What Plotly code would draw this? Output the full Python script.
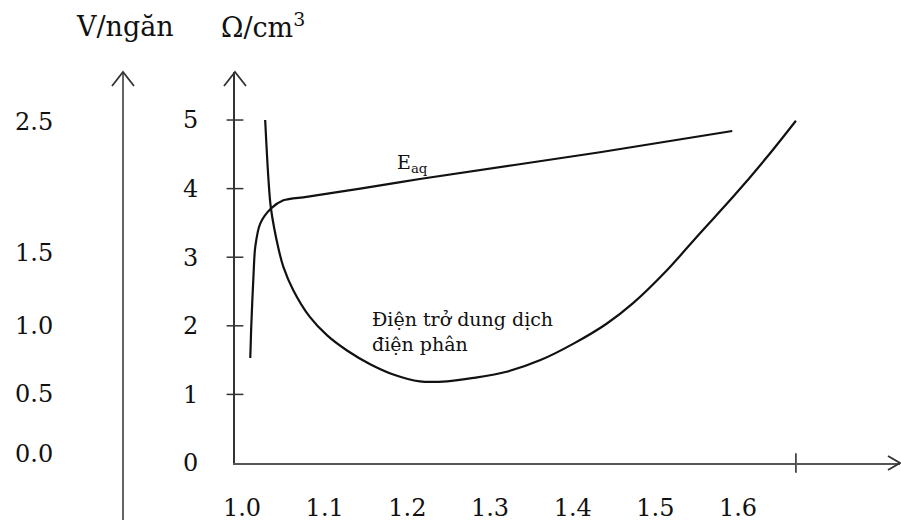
import plotly.graph_objects as go

W, H = 901, 523

# ---------------- data ----------------
x_ticks = [1.0, 1.1, 1.2, 1.3, 1.4, 1.5, 1.6]
x_tick_text = ["1.0", "1.1", "1.2", "1.3", "1.4", "1.5", "1.6"]
x_extra_tick = [1.67]

ohm_ticks = [0, 1, 2, 3, 4, 5]
ohm_tick_text = ["0", "1", "2", "3", "4", "5"]

# V/ngăn labels and where they sit on the Ω scale (hand-drawn, not linear)
v_tick_text = ["0.0", "0.5", "1.0", "1.5", "2.5"]
v_tick_on_ohm = [0.14, 1.01, 2.0, 3.07, 4.97]

# E_aq curve
e_x = [1.010, 1.011, 1.014, 1.016, 1.022, 1.035, 1.050, 1.078, 1.143, 1.215, 1.433, 1.593]
e_y = [1.53, 1.94, 2.77, 3.15, 3.49, 3.71, 3.83, 3.88, 4.00, 4.14, 4.53, 4.84]

# Điện trở dung dịch điện phân curve
r_x = [1.028, 1.032, 1.035, 1.044, 1.050, 1.062, 1.082, 1.103, 1.127, 1.155, 1.183, 1.215,
       1.248, 1.280, 1.320, 1.361, 1.401, 1.441, 1.473, 1.514, 1.554, 1.594, 1.635, 1.670]
r_y = [5.00, 4.13, 3.71, 3.13, 2.86, 2.52, 2.13, 1.86, 1.64, 1.44, 1.29, 1.19,
       1.19, 1.24, 1.33, 1.50, 1.74, 2.03, 2.33, 2.81, 3.35, 3.88, 4.46, 4.99]

x_range = [0.9915, 1.7959]
y_range = [0, 5.70]
y2_range = [-0.831, 5.70]

FONT = "DejaVu Serif"
INK = "#111111"


def px(xp):
    return xp / W


def py(yp):
    return (H - yp) / H


fig = go.Figure()

fig.add_trace(go.Scatter(x=e_x, y=e_y, mode="lines",
                         line=dict(color=INK, width=2.2, shape="spline", smoothing=0.8),
                         hoverinfo="skip", showlegend=False))
fig.add_trace(go.Scatter(x=r_x, y=r_y, mode="lines",
                         line=dict(color=INK, width=2.2, shape="spline", smoothing=0.9),
                         hoverinfo="skip", showlegend=False))

# crossing tick marks on the Ω axis and the extra tick on the x axis
fig.add_trace(go.Scatter(x=[x_range[0]] * len(ohm_ticks[1:]), y=ohm_ticks[1:], mode="markers",
                         marker=dict(symbol="line-ew", size=12, line=dict(color="#333", width=1.5)),
                         cliponaxis=False, hoverinfo="skip", showlegend=False))
fig.add_trace(go.Scatter(x=x_extra_tick, y=[y_range[0]] * len(x_extra_tick), mode="markers",
                         marker=dict(symbol="line-ns", size=14, line=dict(color="#222", width=1.5)),
                         cliponaxis=False, hoverinfo="skip", showlegend=False))

# V/ngăn axis carrier
fig.add_trace(go.Scatter(x=[x_range[0]], y=[y2_range[0]], yaxis="y2", mode="markers",
                         marker=dict(opacity=0), hoverinfo="skip", showlegend=False))

common = dict(showgrid=False, zeroline=False, fixedrange=True, automargin=False)

fig.update_layout(
    width=W, height=H,
    margin=dict(l=0, r=0, t=0, b=0),
    paper_bgcolor="white", plot_bgcolor="rgba(0,0,0,0)",
    showlegend=False,
    font=dict(family=FONT, color=INK),
    xaxis=dict(domain=[px(235), px(900)], range=x_range, anchor="y",
               showline=True, linecolor="#555", linewidth=2,
               ticks="", tickvals=x_ticks, ticktext=x_tick_text,
               tickfont=dict(size=24, family=FONT, color=INK),
               ticklabelstandoff=22, **common),
    yaxis=dict(domain=[py(463), py(72)], range=y_range, anchor="x",
               showline=True, linecolor="#333", linewidth=2,
               ticks="", tickvals=ohm_ticks, ticktext=ohm_tick_text,
               tickfont=dict(size=24, family=FONT, color=INK),
               ticklabelstandoff=30, **common),
    yaxis2=dict(domain=[py(520), py(72)], range=y2_range, anchor="free",
                position=px(123), side="left",
                showline=True, linecolor="#666", linewidth=2,
                ticks="", tickvals=v_tick_on_ohm, ticktext=v_tick_text,
                tickfont=dict(size=24, family=FONT, color=INK),
                ticklabelstandoff=64, **common),
)


def chevron(a, b, c):
    return "M {},{} L {},{} L {},{}".format(px(a[0]), py(a[1]), px(b[0]), py(b[1]), px(c[0]), py(c[1]))


arrow_line = dict(color="#333", width=1.8)
fig.add_shape(type="path", xref="paper", yref="paper",
              path=chevron((224, 86), (235, 72), (246, 86)), line=arrow_line)
fig.add_shape(type="path", xref="paper", yref="paper",
              path=chevron((112, 86), (123, 72), (134, 86)), line=arrow_line)
fig.add_shape(type="path", xref="paper", yref="paper",
              path=chevron((888, 456), (900, 463), (888, 470)), line=arrow_line)

# axis titles
fig.add_annotation(text="V/ngăn", xref="paper", yref="paper", x=px(125), y=py(27),
                   showarrow=False, xanchor="center", yanchor="middle",
                   font=dict(size=27, family=FONT, color=INK))
fig.add_annotation(text="Ω/cm<sup>3</sup>", xref="paper", yref="paper", x=px(263), y=py(25),
                   showarrow=False, xanchor="center", yanchor="middle",
                   font=dict(size=27, family=FONT, color=INK))

# curve labels
fig.add_annotation(text="E<sub>aq</sub>", x=1.1855, y=4.36, xref="x", yref="y",
                   showarrow=False, xanchor="left", yanchor="middle",
                   font=dict(size=19, family=FONT, color=INK))
fig.add_annotation(text="Điện trở dung dịch<br>điện phân", x=1.1548, y=1.92, xref="x", yref="y",
                   showarrow=False, xanchor="left", yanchor="middle", align="left",
                   font=dict(size=19, family=FONT, color=INK))

fig.write_html("out.html")
